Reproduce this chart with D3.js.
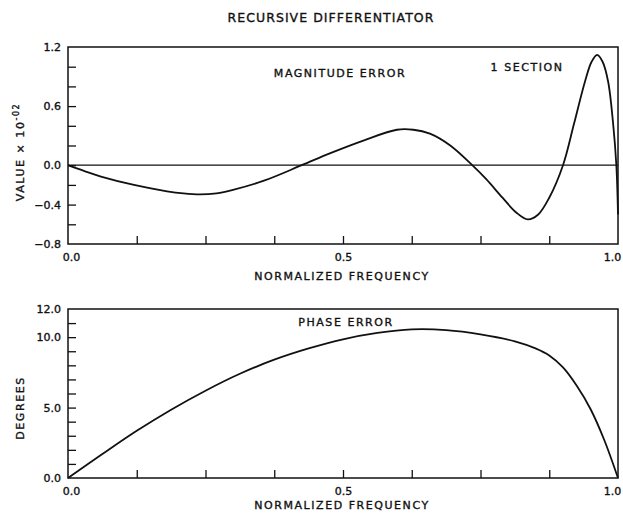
<!DOCTYPE html>
<html>
<head>
<meta charset="utf-8">
<script src="https://cdn.jsdelivr.net/npm/d3@7"></script>
<style>
  body { margin: 0; background: #fff; }
  svg { display: block; }
  text { font-family: "DejaVu Sans", sans-serif; fill: #111; stroke: #111; stroke-width: 0.35px; }
  .lbl { font-size: 11px; letter-spacing: 1.55px; }
  .tick text { font-size: 11px; fill: #111; }
</style>
</head>
<body>
<svg id="chart"></svg>
<script>
// magnitude error (value x 10^-2) vs normalized frequency
const magFreq = [0, 0.03, 0.06, 0.12, 0.18, 0.21, 0.24, 0.27, 0.30, 0.355, 0.425, 0.476, 0.537, 0.598, 0.628, 0.658, 0.695, 0.735,
                 0.76, 0.79, 0.815, 0.836, 0.855, 0.875, 0.9, 0.92, 0.94, 0.952, 0.962, 0.972, 0.982, 0.991, 0.997, 1.0];
const magErr  = [0, -0.06, -0.115, -0.2, -0.265, -0.287, -0.297, -0.285, -0.25, -0.16, 0, 0.12, 0.25, 0.36, 0.36, 0.32, 0.2, 0,
                 -0.14, -0.33, -0.48, -0.55, -0.5, -0.33, 0, 0.42, 0.85, 1.05, 1.12, 1.05, 0.85, 0.43, 0, -0.5];

// phase error (degrees) vs normalized frequency
const phaseFreq = [0, 0.0625, 0.125, 0.1875, 0.25, 0.3125, 0.375, 0.4375, 0.5, 0.5625, 0.625, 0.6875, 0.75,
                   0.8125, 0.85, 0.875, 0.9, 0.925, 0.95, 0.975, 1.0];
const phaseErr  = [0, 1.7, 3.35, 4.85, 6.2, 7.4, 8.4, 9.2, 9.85, 10.3, 10.55, 10.5, 10.2,
                   9.7, 9.2, 8.7, 7.85, 6.55, 4.9, 2.7, 0];

const xTicks = [0.125, 0.25, 0.375, 0.5, 0.625, 0.75, 0.875];
const xTickLabels = [0, 0.5, 1.0];
const magTicks = [-0.6, -0.4, -0.2, 0, 0.2, 0.4, 0.6, 0.8, 1.0];
const magTickLabels = [-0.8, -0.4, 0.0, 0.6, 1.2];
const phaseTicks = [1, 2, 3, 4, 5, 6, 7, 8, 9, 10, 11];
const phaseTickLabels = [0, 5, 10, 12];

const width = 623, height = 514;
const svg = d3.select("#chart").attr("width", width).attr("height", height);

// title
svg.append("text")
   .attr("x", 331).attr("y", 22)
   .attr("text-anchor", "middle")
   .style("font-size", "12.5px").style("letter-spacing", "1.05px")
   .text("RECURSIVE DIFFERENTIATOR");

function panel(opts) {
  const { top, bottom, freq, vals, yDomain, yTicks, yLabels, fmt, zeroLine } = opts;
  const left = 68, right = 618;

  const x = d3.scaleLinear().domain([0, 1]).range([left, right]);
  const y = d3.scaleLinear().domain(yDomain).range([bottom, top]);
  const g = svg.append("g");

  // inward minor ticks
  g.append("g").attr("transform", `translate(${left},0)`)
   .call(d3.axisLeft(y).tickValues(yTicks).tickSize(-8).tickFormat(""))
   .call(a => a.select(".domain").remove())
   .selectAll("line").attr("stroke", "#111").attr("stroke-width", 1.3);

  g.append("g").attr("transform", `translate(0,${bottom})`)
   .call(d3.axisBottom(x).tickValues(xTicks).tickSize(-8).tickFormat(""))
   .call(a => a.select(".domain").remove())
   .selectAll("line").attr("stroke", "#111").attr("stroke-width", 1.3);

  // tick labels
  g.append("g").attr("transform", `translate(${left},0)`)
   .call(d3.axisLeft(y).tickValues(yLabels).tickSize(0).tickPadding(7).tickFormat(fmt))
   .call(a => a.select(".domain").remove());

  g.append("g").attr("transform", `translate(0,${bottom + 6})`)
   .call(d3.axisBottom(x).tickValues(xTickLabels).tickSize(0).tickPadding(3).tickFormat(d3.format(".1f")))
   .call(a => a.select(".domain").remove())
   .selectAll(".tick text").attr("dx", d => d === 0 ? 3 : (d === 1 ? -6 : 0));

  // frame
  g.append("rect")
   .attr("x", left).attr("y", top)
   .attr("width", right - left).attr("height", bottom - top)
   .attr("fill", "none").attr("stroke", "#111").attr("stroke-width", 1.5);

  if (zeroLine) {
    g.append("line")
     .attr("x1", left).attr("x2", right)
     .attr("y1", y(0)).attr("y2", y(0))
     .attr("stroke", "#111").attr("stroke-width", 1.3);
  }

  const line = d3.line()
    .x((d, i) => x(freq[i]))
    .y(d => y(d))
    .curve(d3.curveCatmullRom.alpha(0.5));

  g.append("path")
   .datum(vals)
   .attr("d", line)
   .attr("fill", "none")
   .attr("stroke", "#111")
   .attr("stroke-width", 1.8);

  return { x, y, g };
}

panel({
  top: 47, bottom: 244, freq: magFreq, vals: magErr,
  yDomain: [-0.8, 1.2], yTicks: magTicks, yLabels: magTickLabels,
  fmt: d3.format(".1f"), zeroLine: true
});

panel({
  top: 309, bottom: 478, freq: phaseFreq, vals: phaseErr,
  yDomain: [0, 12], yTicks: phaseTicks, yLabels: phaseTickLabels,
  fmt: d3.format(".1f"), zeroLine: false
});

// panel labels
svg.append("text").attr("class", "lbl").attr("x", 340).attr("y", 77)
   .attr("text-anchor", "middle").text("MAGNITUDE ERROR");
svg.append("text").attr("class", "lbl").attr("x", 527).attr("y", 71)
   .attr("text-anchor", "middle").text("1 SECTION");
svg.append("text").attr("class", "lbl").attr("x", 346).attr("y", 326)
   .attr("text-anchor", "middle").text("PHASE ERROR");

svg.append("text").attr("class", "lbl").attr("x", 342).attr("y", 280)
   .attr("text-anchor", "middle").text("NORMALIZED FREQUENCY");
svg.append("text").attr("class", "lbl").attr("x", 342).attr("y", 509)
   .attr("text-anchor", "middle").text("NORMALIZED FREQUENCY");

// y axis titles
const yt = svg.append("text").attr("class", "lbl")
   .attr("transform", "translate(24,152) rotate(-90)")
   .attr("text-anchor", "middle");
yt.append("tspan").text("VALUE × 10");
yt.append("tspan").attr("dy", -5).style("font-size", "8px").text("-02");

svg.append("text").attr("class", "lbl")
   .attr("transform", "translate(24,408) rotate(-90)")
   .attr("text-anchor", "middle").text("DEGREES");
</script>
</body>
</html>
